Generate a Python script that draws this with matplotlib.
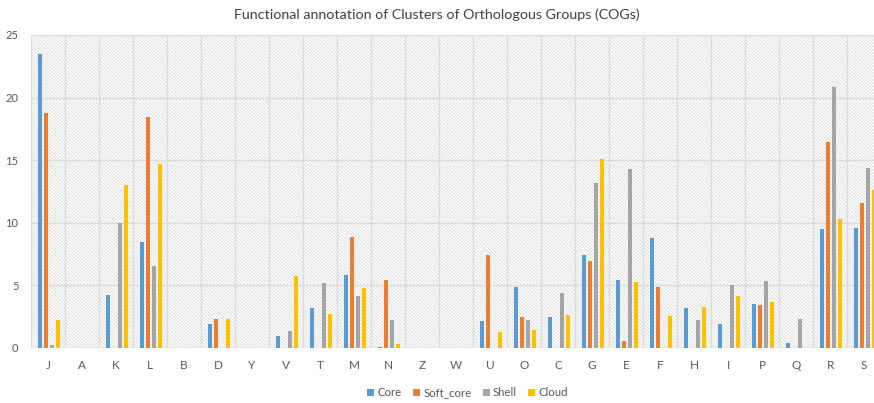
import numpy as np
import matplotlib
matplotlib.use("Agg")
import matplotlib.pyplot as plt
from matplotlib.patches import Rectangle

plt.rcParams['font.family'] = ['Lato', 'DejaVu Sans']
plt.rcParams['hatch.linewidth'] = 0.6

categories = ['J', 'A', 'K', 'L', 'B', 'D', 'Y', 'V', 'T', 'M', 'N', 'Z', 'W',
              'U', 'O', 'C', 'G', 'E', 'F', 'H', 'I', 'P', 'Q', 'R', 'S']
core = [23.5, 0, 4.25, 8.5, 0, 1.9, 0, 0.93, 3.16, 5.85, 0.05, 0, 0,
        2.13, 4.84, 2.5, 7.45, 5.43, 8.8, 3.19, 1.91, 3.48, 0.37, 9.47, 9.57]
soft_core = [18.75, 0, 0, 18.45, 0, 2.35, 0, 0, 0, 8.88, 5.4, 0, 0,
             7.45, 2.45, 0, 6.94, 0.59, 4.84, 0, 0, 3.4, 0, 16.46, 11.6]
shell = [0.2, 0, 10.0, 6.55, 0, 0, 0, 1.38, 5.16, 4.18, 2.26, 0, 0,
         0, 2.26, 4.36, 13.2, 14.26, 0, 2.26, 5.0, 5.37, 2.31, 20.82, 14.39]
cloud = [2.26, 0, 13.0, 14.7, 0, 2.3, 0, 5.75, 2.71, 4.76, 0.35, 0, 0,
         1.28, 1.41, 2.66, 15.13, 5.27, 2.55, 3.24, 4.18, 3.64, 0, 10.32, 12.63]

series = [('Core', core, '#5B9BD5'),
          ('Soft_core', soft_core, '#ED7D31'),
          ('Shell', shell, '#A5A5A5'),
          ('Cloud', cloud, '#FFC000')]

fig = plt.figure(figsize=(8.74, 4.03), dpi=100)
ax = fig.add_axes([0.0355, 0.1365, 0.9645, 0.7767])

# hatched background like the Excel plot area
ax.add_patch(Rectangle((0, 0), 1, 1, transform=ax.transAxes, facecolor='white',
                       edgecolor='#d8d8d8', hatch='\\' * 10, linewidth=0, zorder=0))

x = np.arange(len(categories))
step = 0.176
width = 0.125
for i, (name, vals, color) in enumerate(series):
    ax.bar(x + (i - 1.5) * step + 0.025, vals, width, color=color, label=name, zorder=3)

ax.set_xlim(-0.5, 24.29)
ax.set_ylim(0, 25)
ax.set_yticks(range(0, 26, 5))
ax.set_xticks(x)
ax.set_xticklabels(categories)

# vertical grid lines at category boundaries, horizontal ones at y ticks
for b in np.arange(-0.5, len(categories), 1.0):
    ax.axvline(b, color='#dcdcdc', linewidth=1.0, zorder=1)
ax.grid(axis='y', color='#dcdcdc', linewidth=1.0, zorder=1)
ax.set_axisbelow(True)

for s in ax.spines.values():
    s.set_visible(False)
ax.axhline(0, color='#d9d9d9', linewidth=1.0, zorder=2)
ax.tick_params(axis='both', length=0, colors='#595959', labelsize=8)
ax.tick_params(axis='x', pad=9, labelsize=8.5)
ax.tick_params(axis='y', pad=9)

fig.text(0.5, 0.963, 'Functional annotation of Clusters of Orthologous Groups (COGs)',
         ha='center', va='center', fontsize=10.3, color='#404040')

ax.legend(loc='center', bbox_to_anchor=(0.535, 0.025), bbox_transform=fig.transFigure,
          ncol=4, frameon=False, fontsize=8.2, handlelength=0.6, handleheight=0.6,
          handletextpad=0.3, columnspacing=1.0, labelcolor='#595959')

fig.savefig('out.png', dpi=100)
